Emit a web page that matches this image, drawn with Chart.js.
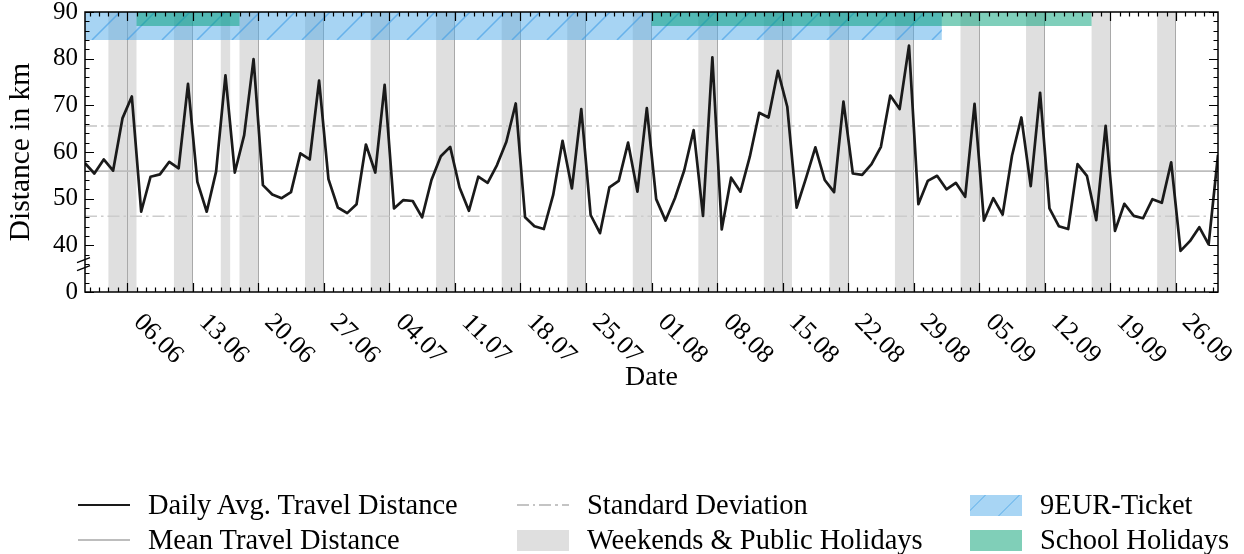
<!DOCTYPE html>
<html>
<head>
<meta charset="utf-8">
<script src="https://cdn.jsdelivr.net/npm/chart.js@4.4.1/dist/chart.umd.min.js"></script>
<style>
  html, body { margin: 0; padding: 0; background: #fff; }
  #wrap { position: relative; width: 1244px; height: 554px; font-family: "Liberation Serif", serif; }
  #wrap canvas { position: absolute; left: 0; top: 0; }
  .lg { position: absolute; height: 30px; display: flex; align-items: center; font-size: 28.5px; color: #000; white-space: nowrap; }
  .sym { width: 52px; margin-right: 18px; flex: none; }
</style>
</head>
<body>
<div id="wrap">
  <canvas id="travelChart" width="1244" height="554"></canvas>
  <div id="legend"></div>
</div>
<script>
// values, one per day from 01.06.2022
const startDate = "2022-06-01";
const dailyDistance = [
  57.6, 55.4, 58.4, 56.0, 67.2, 71.9, 47.2, 54.7, 55.2, 57.9,
  56.5, 74.6, 53.6, 47.2, 55.8, 76.4, 55.6, 63.6, 79.9, 52.9,
  50.9, 50.1, 51.4, 59.7, 58.4, 75.3, 54.2, 48.1, 46.9, 48.8,
  61.6, 55.6, 74.4, 47.9, 49.7, 49.5, 46.0, 54.0, 59.1, 61.1,
  52.4, 47.4, 54.7, 53.4, 57.2, 62.2, 70.4, 46.0, 44.1, 43.5,
  50.8, 62.4, 52.2, 69.2, 46.5, 42.6, 52.4, 53.8, 62.0, 51.5,
  69.4, 49.9, 45.3, 50.1, 56.1, 64.7, 46.3, 80.3, 43.4, 54.5,
  51.5, 59.0, 68.4, 67.4, 77.4, 69.7, 48.1, 54.4, 61.0, 54.0,
  51.4, 70.8, 55.4, 55.1, 57.4, 61.1, 72.1, 69.2, 82.8, 48.8,
  53.8, 54.9, 52.0, 53.4, 50.4, 70.3, 45.3, 50.1, 46.6, 59.2,
  67.4, 52.7, 72.7, 47.9, 44.1, 43.5, 57.4, 54.9, 45.4, 65.6,
  43.1, 48.9, 46.3, 45.8, 49.9, 49.1, 57.8, 38.8, 40.9, 43.9,
  40.2, 59.4
];
const meanDistance = 55.9;
const stdDistance = 9.65;

const xTickLabels = ["06.06", "13.06", "20.06", "27.06", "04.07", "11.07", "18.07", "25.07",
  "01.08", "08.08", "15.08", "22.08", "29.08", "05.09", "12.09", "19.09", "26.09"];
const yTickValues = [30, 40, 50, 60, 70, 80, 90];
const yTickLabels = ["0", "40", "50", "60", "70", "80", "90"];

// [first day, day after last]
const offDays = [
  ["2022-06-04", "2022-06-07"], ["2022-06-11", "2022-06-13"], ["2022-06-16", "2022-06-17"],
  ["2022-06-18", "2022-06-20"], ["2022-06-25", "2022-06-27"], ["2022-07-02", "2022-07-04"],
  ["2022-07-09", "2022-07-11"], ["2022-07-16", "2022-07-18"], ["2022-07-23", "2022-07-25"],
  ["2022-07-30", "2022-08-01"], ["2022-08-06", "2022-08-08"], ["2022-08-13", "2022-08-16"],
  ["2022-08-20", "2022-08-22"], ["2022-08-27", "2022-08-29"], ["2022-09-03", "2022-09-05"],
  ["2022-09-10", "2022-09-12"], ["2022-09-17", "2022-09-19"], ["2022-09-24", "2022-09-26"]
];
const ticketPeriods = [["2022-06-01", "2022-09-01"]];
const schoolHolidays = [["2022-06-07", "2022-06-18"], ["2022-08-01", "2022-09-17"]];

const legendLabels = ["Daily Avg. Travel Distance", "Mean Travel Distance", "Standard Deviation",
  "Weekends & Public Holidays", "9EUR-Ticket", "School Holidays"];

const FONT = '"Liberation Serif", serif';

function dayOffset(iso) {
  return (Date.parse(iso + "T00:00:00Z") - Date.parse(startDate + "T00:00:00Z")) / 86400000;
}
function labelOffset(lbl) {
  const [d, m] = lbl.split(".");
  return dayOffset("2022-" + m + "-" + d);
}

const xMin = 0.5;
const xMax = dailyDistance.length - 0.5;

const bandsPlugin = {
  id: "bands",
  beforeDraw(chart) {
    const { ctx, chartArea: a, scales: { x } } = chart;
    ctx.save();
    ctx.beginPath();
    ctx.rect(a.left, a.top, a.width, a.height);
    ctx.clip();
    ctx.fillStyle = "rgba(128,128,128,0.25)";
    offDays.forEach(([s, e]) => {
      const x0 = x.getPixelForValue(dayOffset(s));
      const x1 = x.getPixelForValue(dayOffset(e));
      ctx.fillRect(x0, a.top, x1 - x0, a.height);
    });
    ctx.restore();
  },
  beforeDatasetsDraw(chart) {
    const { ctx, chartArea: a, scales: { x, y } } = chart;
    ctx.save();
    ctx.beginPath();
    ctx.rect(a.left, a.top, a.width, a.height);
    ctx.clip();
    const top = y.getPixelForValue(90);
    const blueBottom = y.getPixelForValue(84);
    ticketPeriods.forEach(([s, e]) => {
      const x0 = x.getPixelForValue(dayOffset(s));
      const x1 = x.getPixelForValue(dayOffset(e));
      ctx.fillStyle = "rgba(80,170,232,0.5)";
      ctx.fillRect(x0, top, x1 - x0, blueBottom - top);
      ctx.save();
      ctx.beginPath();
      ctx.rect(x0, top, x1 - x0, blueBottom - top);
      ctx.clip();
      ctx.strokeStyle = "rgba(60,155,230,0.6)";
      ctx.lineWidth = 1.5;
      const h = blueBottom - top;
      ctx.beginPath();
      for (let xs = a.left - h; xs < x1; xs += 35) {
        ctx.moveTo(xs, blueBottom);
        ctx.lineTo(xs + h, top);
      }
      ctx.stroke();
      ctx.restore();
    });
    const tealBottom = y.getPixelForValue(87);
    ctx.fillStyle = "rgba(0,160,120,0.5)";
    schoolHolidays.forEach(([s, e]) => {
      const x0 = x.getPixelForValue(dayOffset(s));
      const x1 = x.getPixelForValue(dayOffset(e));
      ctx.fillRect(x0, top, x1 - x0, tealBottom - top);
    });
    ctx.restore();
  }
};

const framePlugin = {
  id: "frame",
  afterDraw(chart) {
    const { ctx, chartArea: a, scales: { x, y } } = chart;
    ctx.save();
    ctx.strokeStyle = "#000";
    ctx.lineWidth = 1.2;
    ctx.beginPath();
    // x ticks, pointing inwards top and bottom
    for (let d = Math.ceil(xMin); d <= xMax; d++) {
      const px = Math.round(x.getPixelForValue(d)) + 0.5;
      ctx.moveTo(px, a.bottom); ctx.lineTo(px, a.bottom - 4.5);
      ctx.moveTo(px, a.top); ctx.lineTo(px, a.top + 4.5);
    }
    xTickLabels.forEach(l => {
      const px = Math.round(x.getPixelForValue(labelOffset(l))) + 0.5;
      ctx.moveTo(px, a.bottom); ctx.lineTo(px, a.bottom - 9);
      ctx.moveTo(px, a.top); ctx.lineTo(px, a.top + 9);
    });
    // y ticks, left and right
    for (let v = y.min; v <= y.max; v += 2) {
      const py = Math.round(y.getPixelForValue(v)) + 0.5;
      const len = v % 10 === 0 ? 9 : 4.5;
      ctx.moveTo(a.left, py); ctx.lineTo(a.left + len, py);
      ctx.moveTo(a.right, py); ctx.lineTo(a.right - len, py);
    }
    ctx.stroke();

    ctx.lineWidth = 1.5;
    ctx.strokeRect(a.left, a.top, a.right - a.left, a.bottom - a.top);

    // axis break marks
    ctx.lineWidth = 1.3;
    ctx.beginPath();
    [a.bottom - 32, a.bottom - 24].forEach(yc => {
      ctx.moveTo(a.left - 8, yc + 2.6);
      ctx.lineTo(a.left + 5, yc - 2.4);
    });
    ctx.stroke();

    // rotated date labels
    ctx.fillStyle = "#000";
    ctx.font = "26px " + FONT;
    ctx.textAlign = "center";
    ctx.textBaseline = "middle";
    xTickLabels.forEach(l => {
      const px = x.getPixelForValue(labelOffset(l));
      ctx.save();
      ctx.translate(px + 31, a.bottom + 47);
      ctx.rotate(Math.PI / 4);
      ctx.fillText(l, 0, 0);
      ctx.restore();
    });

    // axis titles
    ctx.font = "28px " + FONT;
    ctx.fillText("Date", (a.left + a.right) / 2, a.bottom + 86);
    ctx.save();
    ctx.translate(21, (a.top + a.bottom) / 2);
    ctx.rotate(-Math.PI / 2);
    ctx.font = "29.5px " + FONT;
    ctx.fillText("Distance in km", 0, 0);
    ctx.restore();
    ctx.restore();
  }
};

Chart.defaults.font.family = FONT;
Chart.defaults.color = "#000";

new Chart(document.getElementById("travelChart"), {
  type: "line",
  data: {
    datasets: [
      {
        label: legendLabels[0],
        data: dailyDistance.map((v, i) => ({ x: i + 0.5, y: v })),
        borderColor: "#1a1a1a",
        borderWidth: 2.7,
        borderJoinStyle: "round",
        pointRadius: 0,
        tension: 0
      },
      {
        label: legendLabels[1],
        data: [{ x: xMin, y: meanDistance }, { x: xMax, y: meanDistance }],
        borderColor: "#bdbdbd",
        borderWidth: 1.6,
        pointRadius: 0
      },
      {
        label: legendLabels[2],
        data: [{ x: xMin, y: meanDistance + stdDistance }, { x: xMax, y: meanDistance + stdDistance }],
        borderColor: "#c4c4c4",
        borderWidth: 1.5,
        borderDash: [12, 4, 2.5, 4],
        pointRadius: 0
      },
      {
        label: legendLabels[2] + " (lower)",
        data: [{ x: xMin, y: meanDistance - stdDistance }, { x: xMax, y: meanDistance - stdDistance }],
        borderColor: "#cccccc",
        borderWidth: 1.5,
        borderDash: [12, 4, 2.5, 4],
        pointRadius: 0
      }
    ]
  },
  options: {
    responsive: false,
    animation: false,
    layout: { padding: { left: 0, right: 26, top: 12, bottom: 0 } },
    plugins: { legend: { display: false }, tooltip: { enabled: false } },
    scales: {
      x: {
        type: "linear",
        min: xMin,
        max: xMax,
        afterBuildTicks: s => { s.ticks = xTickLabels.map(l => ({ value: labelOffset(l) })); },
        grid: { color: "#a9a9a9", lineWidth: 1, drawTicks: false },
        border: { display: false },
        ticks: { display: false },
        afterFit: s => { s.height = 262; s.paddingLeft = 0; s.paddingRight = 0; }
      },
      y: {
        min: 30,
        max: 90,
        afterBuildTicks: s => { s.ticks = yTickValues.map(v => ({ value: v })); },
        ticks: {
          callback: v => yTickLabels[yTickValues.indexOf(v)],
          font: { size: 25 },
          color: "#000",
          padding: 7
        },
        grid: { display: false, drawTicks: false },
        border: { display: false },
        afterFit: s => { s.width = 85; s.paddingTop = 0; s.paddingBottom = 0; }
      }
    }
  },
  plugins: [bandsPlugin, framePlugin]
});

// legend below the plot, three columns
const legendItems = [
  { col: 78, row: 505, sym: "height:2.8px;background:#1a1a1a" },
  { col: 78, row: 540, sym: "height:1.8px;background:#bdbdbd" },
  { col: 517, row: 505, sym: "height:1.6px;background:repeating-linear-gradient(to right,#c4c4c4 0 12px,transparent 12px 16px,#c4c4c4 16px 18.5px,transparent 18.5px 22.5px)" },
  { col: 517, row: 540, sym: "height:21px;background:#dfdfdf" },
  { col: 970, row: 505, sym: "height:21px;background:repeating-linear-gradient(135deg,#a8d5f4 0 10px,#7fc0ee 10px 12px,#a8d5f4 12px 24px)" },
  { col: 970, row: 540, sym: "height:21px;background:#80cfb8" }
];
const legendEl = document.getElementById("legend");
legendItems.forEach((it, i) => {
  const div = document.createElement("div");
  div.className = "lg";
  div.style.left = it.col + "px";
  div.style.top = (it.row - 15) + "px";
  div.innerHTML = '<span class="sym" style="' + it.sym + '"></span><span></span>';
  div.lastChild.textContent = legendLabels[i];
  legendEl.appendChild(div);
});
</script>
</body>
</html>
